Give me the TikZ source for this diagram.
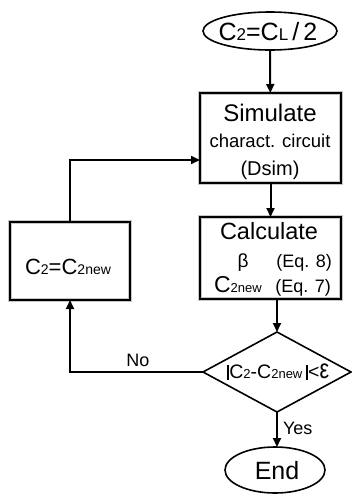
\documentclass[tikz,border=0pt]{standalone}
\usepackage{fontspec}
\usepackage{graphicx}
\setmainfont{Liberation Sans}
\usetikzlibrary{shapes.geometric,arrows.meta}
% small, baseline-aligned index text (C2, CL, C2new)
\newcommand\idx[2][14]{{\fontsize{#1}{#1}\selectfont #2}}
\newcommand\fs[1]{\fontsize{#1}{#1}\selectfont}
\newcommand\absbar{\rule[-1pt]{2.6pt}{15pt}}
\begin{document}
\begin{tikzpicture}[x=1pt,y=-1pt,
  every node/.style={inner sep=0pt,outer sep=0pt},
  halo/.style={preaction={draw=black!22,line width=4.2pt}},
  shapebox/.style={draw,line width=2.2pt,halo,rectangle},
  term/.style={draw,line width=1.6pt,ellipse},
  decide/.style={draw,line width=1.6pt,diamond},
  flow/.style={line width=2pt,-{Triangle[length=9pt,width=8pt]}},
  txt/.style={anchor=base},
  lbl/.style={font=\fs{18}}]
\useasboundingbox (0,0) rectangle (352,499);

% terminals
\node[term,minimum width=134,minimum height=38] (start) at (270,31) {};
\node (starttext) at (268,32) {\fs{25}C\idx[17]{2}=C\idx[17]{L}\,/\,2};

\node[term,minimum width=100,minimum height=46] (end) at (275,470) {};
\node (endtext) at (277,471) {\fs{25}End};

% simulation step
\node[shapebox,minimum width=141,minimum height=90] (sim) at (270.5,138) {};
\node[txt] (simA) at (270,121) {\fs{24}Simulate};
\node[txt] (simB) at (270,147) {\fs{18.5}charact. circuit};
\node[txt] (simC) at (270,175) {\fs{20}(Dsim)};

% calculation step
\node[shapebox,minimum width=141,minimum height=82] (calc) at (270.5,258) {};
\node[txt] (calcA) at (269,239) {\fs{23.5}Calculate};
\node[txt] (beta) at (243,267) {\fs{19}β};
\node[txt,anchor=base east] (eqA) at (332,267) {\fs{18}(Eq. 8)};
\node[txt,anchor=base west] (cnew) at (214,292) {\fs{23}C\idx[13]{2new}};
\node[txt,anchor=base east] (eqB) at (331,292) {\fs{18}(Eq. 7)};

% update step
\node[shapebox,minimum width=120,minimum height=78] (upd) at (70,261) {};
\node (updtext) at (68,267) {\fs{22}C\idx{2}=C\idx{2new}};

% decision
\node[decide,minimum width=148,minimum height=80] (dec) at (277,372) {};
\node (dectext) at (278,372)
  {\fs{19.5}\absbar C\idx[13]{2}-C\idx[13]{2new}\,\absbar{}<\scalebox{1.1}[1.4]{ε}};

% connectors
\draw[flow] (start) -- (sim);
\draw[flow] (sim) -- (calc);
\draw[flow] (calc.south -| dec.north) -- (dec.north);
\draw[flow] (dec.south) -- (dec.south |- end.north);
\draw[flow] (dec.west) -| (upd.south);
\draw[flow] (upd.north) |- ([yshift=-22pt]sim.west);

% branch labels
\node[lbl] (no) at (138,360) {No};
\node[lbl,anchor=west] (yes) at (283,428) {Yes};
\end{tikzpicture}
\end{document}
